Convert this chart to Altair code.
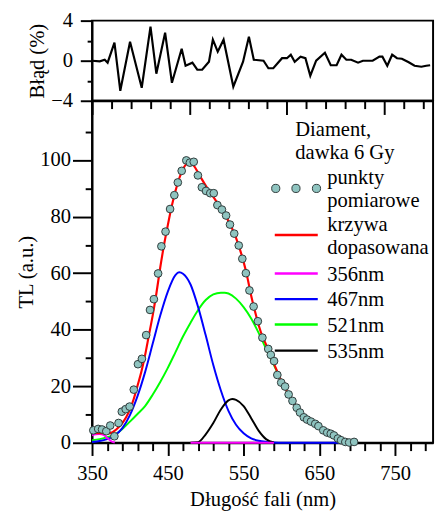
import altair as alt
import pandas as pd

FONT = "Liberation Serif, Times New Roman, Times, serif"
FS = 21

# ---------------- data ----------------
# top panel: fit error (%)
err_nm = [350, 358, 363, 366, 373, 379, 389, 401, 410, 416, 425, 432, 442, 446, 453, 458, 463, 470, 474, 479,
          485, 495, 505, 511, 516, 526, 531, 536, 545, 550, 554, 558, 564, 569, 574, 580, 589, 595, 601, 606,
          611, 616, 623, 628, 638, 645, 648, 653, 658, 663, 668, 675, 681, 688, 693, 697]
err_val = [0, -0.06, 0.1, -0.2, 1.8, -3.0, 1.9, -2.7, 3.4, -1.3, 2.8, -2.2, 1.2, -0.5, -0.2, -0.9, -0.9, -0.1, 2.1, 0.9,
           2.1, -2.6, -0.1, 2.4, 0.1, 0, -0.75, -0.75, 0.25, 0.25, 0.6, -0.1, 0.4, 0.25, -1.5, 0, 0.8, -0.45, -0.45, 0.6,
           0.1, 0.1, -0.2, 0, 0, 0.4, 0.4, -0.5, 0.6, 0.25, 0.2, -0.15, -0.5, -0.6, -0.5, -0.45]

# measured points
pts_nm = [351.7, 358.1, 363.2, 368.8, 374.0, 379.5, 385.0, 389.3, 394.4, 399.6,
          405.1, 410.6, 415.8, 421.4, 426.5, 431.6, 437.2, 441.5, 447.0, 453.0,
          458.6, 463.2, 468.3, 474.4, 479.1, 484.2, 489.7, 494.9, 500.4, 506.0,
          510.6, 515.4, 521.4, 526.9, 532.0, 537.6, 543.6, 548.3, 553.0, 557.7,
          563.2, 568.8, 574.8, 582.5, 585.9, 590.2, 594.5, 599.6, 604.7, 609.4,
          614.5, 620.1, 624.4, 629.5, 633.8, 638.9, 644.5, 648.7, 655.1, 660.3,
          665.0, 669.2, 674.4, 678.6, 684.2, 689.3, 695.8]
pts_val = [4.4, 4.9, 4.7, 4.1, 6.1, 2.3, 7.0, 11.0, 11.9, 12.8,
           18.8, 27.8, 29.7, 38.1, 47.0, 50.8, 59.9, 69.5, 74.7, 82.7,
           87.6, 92.1, 96.2, 99.9, 99.1, 99.4, 94.6, 90.4, 89.1, 88.3,
           88.3, 84.1, 82.5, 80.4, 77.2, 74.0, 69.8, 65.1, 60.0, 53.9,
           48.2, 43.0, 37.2, 33.2, 31.1, 28.9, 24.0, 21.3, 19.9, 17.1,
           14.8, 12.4, 10.7, 9.0, 8.2, 7.5, 6.7, 5.9, 4.4, 3.6,
           3.2, 2.6, 1.5, 0.9, 0.3, 0.1, 0.3]

# fitted curve (red)
red_nm = [350, 360, 370, 375, 380, 385, 390, 395, 400, 405, 410, 415, 420, 425, 430, 435, 440, 445, 450, 455,
          460, 465, 470, 475, 480, 485, 490, 495, 500, 510, 520, 530, 540, 545, 550, 555, 560, 565, 570, 575,
          580, 585, 590, 595, 600, 610, 620, 630, 640, 650, 660, 670, 680, 690, 700]
red_val = [3.5, 3.4, 3.3, 3.5, 4.3, 5.5, 7.0, 9.0, 11.8, 15.5, 20.2, 25.0, 31.0, 38.0, 45.0, 53.0, 62.0, 70.0, 77.0, 83.5,
           89.0, 93.5, 96.8, 98.6, 98.8, 97.8, 95.5, 93.2, 91.0, 87.0, 83.0, 78.5, 72.5, 68.5, 64.0, 58.5, 52.0, 46.5, 41.5, 37.5,
           34.5, 31.0, 28.0, 24.8, 21.8, 16.8, 12.7, 9.4, 7.1, 5.2, 3.7, 2.4, 1.3, 0.5, 0.2]

# component 467 nm (blue)
blue_nm = [350, 360, 370, 380, 390, 400, 410, 420, 430, 440, 450, 460, 465, 470, 480, 490, 500, 510, 520, 530,
           540, 550, 560, 570, 580, 590, 600, 620, 640, 660, 680, 700]
blue_val = [0.3, 0.6, 1.3, 2.6, 5.2, 9.8, 16.5, 25.0, 35.0, 45.0, 53.5, 59.3, 60.3, 59.8, 56.0, 48.0, 38.0, 27.5, 18.5, 11.3,
            6.4, 3.4, 1.6, 0.7, 0.3, 0.1, 0, 0, 0, 0, 0, 0]

# component 521 nm (green)
green_nm = [350, 360, 370, 380, 390, 400, 410, 420, 430, 440, 450, 460, 470, 480, 490, 500, 510, 520, 525, 530,
            540, 550, 560, 570, 580, 590, 600, 610, 620, 630, 640, 650, 660, 670, 680, 690, 700]
green_val = [0.9, 1.3, 2.0, 2.9, 4.9, 7.5, 10.2, 13.0, 17.0, 21.5, 26.5, 32.0, 37.6, 42.5, 47.0, 50.5, 52.5, 53.1, 53.1, 52.8,
             51.0, 48.0, 44.0, 38.8, 33.0, 27.5, 21.8, 16.8, 12.6, 9.3, 7.0, 5.0, 3.5, 2.2, 1.1, 0.5, 0.2]

# component 535 nm (black)
black_nm = [480, 490, 500, 510, 520, 530, 535, 540, 550, 560, 570, 580, 590]
black_val = [0, 0.2, 3.0, 7.0, 11.8, 15.0, 15.5, 15.2, 13.0, 8.7, 4.2, 1.2, 0.1]

# component 356 nm (magenta), drawn in two pieces
mag_nm = [350, 355, 360, 365, 370, 375, 380, 480, 535, 590]
mag_val = [2.6, 3.0, 3.1, 2.8, 1.7, 0.6, 0.1, 0, 0, 0]
mag_seg = ["a", "a", "a", "a", "a", "a", "a", "b", "b", "b"]

legend_title = ["Diament,", "dawka 6 Gy"]
legend_labels = ["punkty", "pomiarowe", "krzywa", "dopasowana", "356nm", "467nm", "521nm", "535nm"]
legend_colors = ["#ff0000", "#ff00ff", "#0000ff", "#00ff00", "#000000"]

PT_FILL = "#8fc4c0"
PT_STROKE = "#2f3a3a"

# ---------------- axes ----------------
major_x = "(datum.value - 350) % 100 === 0"

axis_xb = alt.Axis(
    values=list(range(350, 800, 20)),
    labelExpr=f"{major_x} ? datum.label : ''",
    tickSize={"condition": {"test": major_x, "value": 13}, "value": 8},
    labelPadding=8, title="Długość fali (nm)", titlePadding=5,
    labelFlush=False, labelOverlap=False,
)
axis_xt = alt.Axis(
    values=list(range(350, 700, 20)),
    labels=False, title=None,
    tickSize={"condition": {"test": major_x, "value": 14}, "value": 8},
)
axis_yb = alt.Axis(
    values=list(range(0, 120, 10)),
    labelExpr="datum.value % 20 === 0 ? datum.label : ''",
    tickSize={"condition": {"test": "datum.value % 20 === 0", "value": 20}, "value": 7},
    labelPadding=2, title="TL (a.u.)", titlePadding=3, labelOverlap=False,
)
axis_yt = alt.Axis(
    values=[-4, -2, 0, 2, 4],
    labelExpr="datum.value % 4 === 0 ? datum.label : ''",
    tickSize={"condition": {"test": "datum.value % 4 === 0", "value": 12}, "value": 5},
    labelPadding=8, title="Błąd (%)", titlePadding=3, labelOverlap=False,
)

xb = alt.X("nm:Q", scale=alt.Scale(domain=[350, 800], nice=False, zero=False), axis=axis_xb)
yb = alt.Y("val:Q", scale=alt.Scale(domain=[0, 121], nice=False, zero=False), axis=axis_yb)

# ---------------- top panel ----------------
df_err = pd.DataFrame({"nm": err_nm, "val": err_val})
top = alt.Chart(df_err).mark_line(color="black", strokeWidth=2.2).encode(
    x=alt.X("nm:Q", scale=alt.Scale(domain=[350, 700], nice=False, zero=False), axis=axis_xt),
    y=alt.Y("val:Q", scale=alt.Scale(domain=[-4, 4], nice=False, zero=False), axis=axis_yt),
).properties(width=349, height=82)

# ---------------- bottom panel ----------------
def curve(nm, val, color, width=2):
    return alt.Chart(pd.DataFrame({"nm": nm, "val": val})).mark_line(
        color=color, strokeWidth=width, interpolate="monotone").encode(x=xb, y=yb)

green = curve(green_nm, green_val, "#00ff00")
blue = curve(blue_nm, blue_val, "#0000ff")
black = curve(black_nm, black_val, "#000000")
magenta = alt.Chart(pd.DataFrame({"nm": mag_nm, "val": mag_val, "seg": mag_seg})).mark_line(
    color="#ff00ff", strokeWidth=2, interpolate="monotone").encode(x=xb, y=yb, detail="seg:N")
red = curve(red_nm, red_val, "#ff0000", 2.2)
points = alt.Chart(pd.DataFrame({"nm": pts_nm, "val": pts_val})).mark_point(
    shape="circle", filled=True, size=62, fill=PT_FILL, stroke=PT_STROKE, strokeWidth=1, opacity=1
).encode(x=xb, y=yb)

one = pd.DataFrame({"k": [0]})


def txt(t, x, y):
    return alt.Chart(one).mark_text(text=t, align="left", baseline="alphabetic", font=FONT,
                                    fontSize=FS, color="black").encode(x=alt.value(x), y=alt.value(y))


def seg(color, y):
    return alt.Chart(one).mark_rule(color=color, strokeWidth=2.5).encode(
        x=alt.value(187), x2=alt.value(231), y=alt.value(y))


def dot(x, y):
    return alt.Chart(one).mark_point(shape="circle", filled=True, size=70, fill=PT_FILL,
                                     stroke=PT_STROKE, strokeWidth=1, opacity=1).encode(
        x=alt.value(x), y=alt.value(y))


legend = [
    txt(legend_title[0], 208, 36), txt(legend_title[1], 208, 60),
    dot(188, 89.7), dot(208.7, 89.7), dot(229.7, 89.7),
    txt(legend_labels[0], 240.7, 85), txt(legend_labels[1], 240.7, 108.3),
    seg(legend_colors[0], 137.3),
    txt(legend_labels[2], 240.7, 133.3), txt(legend_labels[3], 240.7, 157.3),
    seg(legend_colors[1], 176.7), txt(legend_labels[4], 240.7, 184),
    seg(legend_colors[2], 203), txt(legend_labels[5], 240.7, 210.3),
    seg(legend_colors[3], 229), txt(legend_labels[6], 240.7, 236.3),
    seg(legend_colors[4], 255.7), txt(legend_labels[7], 240.7, 263),
]

bottom = alt.layer(green, blue, black, magenta, red, points, *legend).properties(width=349, height=350)

chart = alt.vconcat(top, bottom, spacing=0, bounds="flush").properties(
    padding={"left": 7, "top": -5, "right": 0, "bottom": 0},
).configure_view(stroke="black", strokeWidth=2).configure_axis(
    labelFont=FONT, titleFont=FONT, labelFontSize=FS, titleFontSize=FS, titleFontWeight="normal",
    labelColor="black", titleColor="black", domainColor="black", tickColor="black",
    domainWidth=2, tickWidth=2, grid=False,
)

chart.save("out.html", embed_options={"renderer": "svg", "actions": False})
